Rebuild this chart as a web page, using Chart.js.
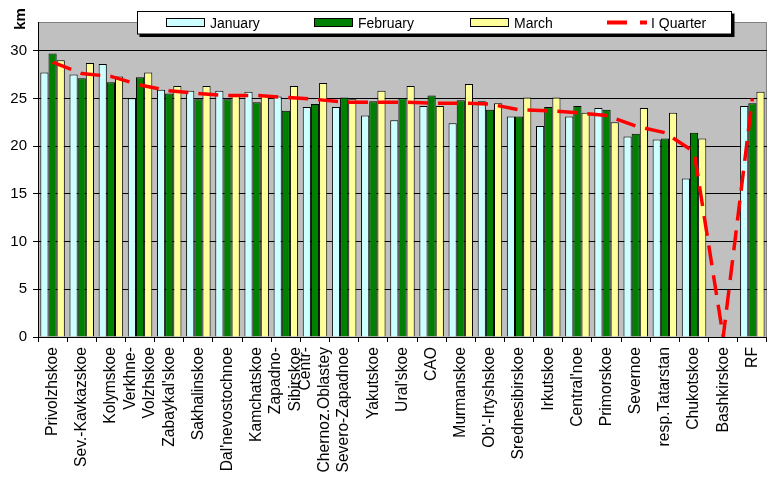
<!DOCTYPE html>
<html><head><meta charset="utf-8">
<script src="https://cdn.jsdelivr.net/npm/chart.js@4/dist/chart.umd.min.js"></script>
<style>html,body{margin:0;padding:0;background:#fff;overflow:hidden}#wrap{width:777px;height:479px;position:relative}</style>
</head><body>
<div id="wrap"><canvas id="c" width="777" height="479"></canvas></div>
<script>
const categories = [
  'Privolzhskoe', 'Sev.-Kavkazskoe', 'Kolymskoe', ['Verkhne-', 'Volzhskoe'], "Zabaykal'skoe",
  'Sakhalinskoe', "Dal'nevostochnoe", 'Kamchatskoe', ['Zapadno-', 'Sibirskoe'], ['Centr-', 'Chernoz.Oblastey'],
  'Severo-Zapadnoe', 'Yakutskoe', "Ural'skoe", 'CAO', 'Murmanskoe',
  "Ob'-Irtyshskoe", 'Srednesibirskoe', 'Irkutskoe', "Central'noe", 'Primorskoe',
  'Severnoe', 'resp.Tatarstan', 'Chukotskoe', 'Bashkirskoe', 'RF'
];
const january  = [27.7, 27.5, 28.6, 25.0, 25.9, 25.8, 25.8, 25.7, 25.2, 24.1, 24.1, 23.2, 22.7, 24.2, 22.4, 24.7, 23.1, 22.1, 23.1, 24.0, 21.0, 20.7, 16.6, null, 24.2];
const february = [29.7, 27.1, 26.7, 27.2, 25.5, 24.9, 24.9, 24.6, 23.7, 24.4, 25.1, 24.7, 25.0, 25.3, 24.8, 23.8, 23.1, 24.1, 24.2, 23.8, 21.3, 20.8, 21.4, null, 24.5];
const march    = [29.0, 28.7, 27.3, 27.7, 26.3, 26.3, 25.4, 25.3, 26.3, 26.6, 24.9, 25.8, 26.3, 24.2, 26.5, 24.5, 25.1, 25.1, 23.5, 22.5, 24.0, 23.5, 20.8, null, 25.7];
const quarter  = [28.8, 27.6, 27.3, 26.4, 25.8, 25.5, 25.3, 25.3, 25.1, 24.9, 24.6, 24.6, 24.6, 24.5, 24.5, 24.4, 23.8, 23.7, 23.5, 23.2, 22.1, 21.4, 19.4, 0, 25.0];
const yTickValues = [0, 5, 10, 15, 20, 25, 30];
const seriesNames = ['January', 'February', 'March', 'I Quarter'];
const yTitle = 'km';

const FONT = "'Liberation Sans', Arial, sans-serif";
Chart.defaults.font.family = FONT;
Chart.defaults.color = '#000';

const decor = {
  id: 'decor',
  beforeDraw(chart) {
    // center multi-line category labels on their tick
    const xs = chart.scales.x;
    const items = xs.getLabelItems();
    items.forEach(it => {
      if (Array.isArray(it.label) && !it._centered) {
        it.textOffset -= (it.label.length - 1) * it.font.lineHeight / 2;
        it._centered = true;
      }
    });
    const {ctx, chartArea: a} = chart;
    ctx.save();
    ctx.fillStyle = '#C0C0C0';
    ctx.fillRect(a.left, a.top, a.right - a.left, a.bottom - a.top);
    ctx.strokeStyle = '#808080';
    ctx.lineWidth = 1;
    ctx.beginPath();
    ctx.moveTo(a.left, a.top + 0.5);
    ctx.lineTo(a.right - 0.5, a.top + 0.5);
    ctx.lineTo(a.right - 0.5, a.bottom);
    ctx.stroke();
    ctx.restore();
  },
  afterDraw(chart) {
    const ctx = chart.ctx;
    ctx.save();
    ctx.translate(21, 19);
    ctx.rotate(-Math.PI / 2);
    ctx.font = 'bold 15px ' + FONT;
    ctx.fillStyle = '#000';
    ctx.textAlign = 'center';
    ctx.textBaseline = 'middle';
    ctx.fillText(yTitle, 0, 0);
    ctx.restore();

    ctx.save();
    const bx = 137.5, by = 11.5, bw = 594, bh = 22.5;
    ctx.fillStyle = '#000';
    ctx.fillRect(bx + 2, by + 2, bw + 1, bh + 1);
    ctx.fillStyle = '#fff';
    ctx.fillRect(bx, by, bw, bh);
    ctx.strokeStyle = '#000';
    ctx.lineWidth = 1;
    ctx.strokeRect(bx, by, bw, bh);
    const ds = chart.data.datasets;
    const swX = [166.5, 314.5, 470.5];
    ctx.font = '14px ' + FONT;
    ctx.textBaseline = 'alphabetic';
    ctx.textAlign = 'left';
    for (let i = 0; i < 3; i++) {
      ctx.fillStyle = ds[i].backgroundColor;
      ctx.fillRect(swX[i], 18.5, 38, 8);
      ctx.strokeRect(swX[i], 18.5, 38, 8);
      ctx.fillStyle = '#000';
      ctx.fillText(ds[i].label, swX[i] + 43.5, 27.5);
    }
    ctx.strokeStyle = ds[3].borderColor;
    ctx.lineWidth = 4;
    ctx.setLineDash([20, 13]);
    ctx.beginPath();
    ctx.moveTo(607, 22.5);
    ctx.lineTo(647, 22.5);
    ctx.stroke();
    ctx.setLineDash([]);
    ctx.fillStyle = '#000';
    ctx.fillText(ds[3].label, 651, 27.5);
    ctx.restore();
  }
};

new Chart(document.getElementById('c'), {
  type: 'bar',
  data: {
    labels: categories,
    datasets: [
      {label: seriesNames[0], data: january, backgroundColor: '#CCFFFF', borderColor: '#000', borderWidth: 1, order: 2},
      {label: seriesNames[1], data: february, backgroundColor: '#008000', borderColor: '#000', borderWidth: 1, order: 2},
      {label: seriesNames[2], data: march, backgroundColor: '#FFFF99', borderColor: '#000', borderWidth: 1, order: 2},
      {label: seriesNames[3], data: quarter, type: 'line', borderColor: '#FF0000', borderWidth: 3.5,
       borderDash: [20, 10], pointRadius: 0, tension: 0, fill: false, order: 1}
    ]
  },
  options: {
    responsive: false,
    animation: false,
    devicePixelRatio: 1,
    layout: {padding: {top: 22, right: 1, left: 0, bottom: 0}},
    plugins: {legend: {display: false}, tooltip: {enabled: false}},
    datasets: {bar: {categoryPercentage: 0.84, barPercentage: 1.0}},
    scales: {
      x: {
        offset: true,
        grid: {display: true, drawOnChartArea: false, drawTicks: true, tickLength: 5, color: '#000', tickColor: '#000'},
        border: {display: true, color: '#000', width: 1},
        ticks: {autoSkip: false, minRotation: 90, maxRotation: 90, padding: 5,
                font: {size: 15.7, family: FONT, lineHeight: 1.25}, color: '#000'},
        afterFit(s) { s.height = 142; }
      },
      y: {
        min: 0, max: 33,
        grid: {color: '#000', lineWidth: 1, drawTicks: true, tickLength: 5, tickColor: '#000'},
        border: {display: true, color: '#000', width: 1},
        ticks: {stepSize: 5, padding: 6, font: {size: 15, family: FONT}, color: '#000'},
        afterBuildTicks(s) { s.ticks = yTickValues.map(v => ({value: v})); },
        afterFit(s) { s.width = 38; }
      }
    }
  },
  plugins: [decor]
});
</script>
</body></html>
